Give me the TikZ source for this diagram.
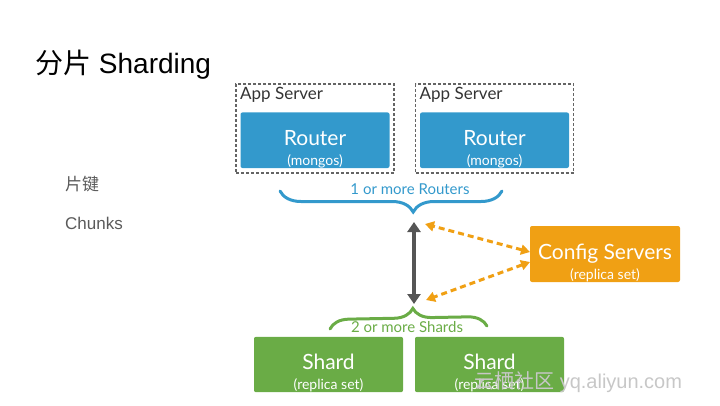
\documentclass[tikz,border=0pt]{standalone}
\usepackage{fontspec}
\setmainfont{Liberation Sans}
\newfontfamily\gill{Lato}
\newfontfamily\cjk{Noto Sans CJK SC}
\usetikzlibrary{arrows.meta, positioning, calc, decorations.pathreplacing}
\definecolor{routerblue}{RGB}{51, 153, 204}
\definecolor{cfgorange}{RGB}{240, 160, 20}
\definecolor{shardgreen}{RGB}{106, 172, 70}
\definecolor{appgray}{RGB}{100, 100, 100}
\definecolor{arrowgray}{RGB}{85, 85, 85}
\definecolor{notegray}{RGB}{90, 90, 90}
% two-line box text, pushed a bit below the middle
\newcommand{\twolines}[2]{\rule{0pt}{33pt}#1\\[-1pt]{\gill\fontsize{14}{14}\selectfont #2}}

\begin{document}
\begin{tikzpicture}[x=1pt, y=-1pt,
  appbox/.style={draw=appgray, line width=1.2pt, dash pattern=on 3pt off 2pt, minimum width=158pt, minimum height=89pt, outer sep=0pt},
  applabel/.style={inner sep=0pt, font=\gill\fontsize{17}{18}\selectfont, text=black!80},
  comp/.style={rounded corners=2pt, text=white, align=center, inner sep=0pt, outer sep=0pt, minimum width=149pt, minimum height=55pt, font=\gill\fontsize{21}{21}\selectfont},
  router/.style={comp, fill=routerblue},
  shard/.style={comp, fill=shardgreen},
  config/.style={comp, fill=cfgorange, minimum width=150pt, minimum height=56pt},
  note/.style={anchor=base west, inner sep=0pt, text=notegray, font=\fontsize{17}{20}\selectfont},
  mainarrow/.style={draw=arrowgray, line width=4pt, {Triangle[width=13pt,length=10pt]}-{Triangle[width=13pt,length=10pt]}},
  cfgarrow/.style={draw=cfgorange, line width=3pt, dash pattern=on 6pt off 4pt, {Triangle[width=10pt,length=9pt]}-{Triangle[width=10pt,length=9pt]}},
  bracelabel/.style={font=\gill\fontsize{15}{15}\selectfont, inner sep=0pt}
]
  \useasboundingbox (0,0) rectangle (720,405);

  % title and notes
  \node[anchor=base west, inner sep=0pt, font=\fontsize{28}{30}\selectfont] (title) at (35,73) {{\cjk 分片} Sharding};
  \node[note] (shardkey) at (65,190) {\cjk 片键};
  \node[note] (chunks) at (65,229) {Chunks};

  % app servers with routers
  \node[appbox] (appA) at (315,128.5) {};
  \node[appbox] (appB) at (494.5,128.5) {};
  \node[applabel, below right=3pt and 4pt of appA.north west] {App Server};
  \node[applabel, below right=3pt and 4pt of appB.north west] {App Server};
  \node[router, above=5pt of appA.south] (routerA) {\twolines{Router}{(mongos)}};
  \node[router, above=5pt of appB.south] (routerB) {\twolines{Router}{(mongos)}};

  % config servers
  \node[config] (cfg) at (605,254) {\twolines{Config Servers}{(replica set)}};

  % shards
  \node[shard] (shardA) at (328.5,364.5) {\twolines{Shard}{(replica set)}};
  \node[shard, right=12pt of shardA] (shardB) {\twolines{Shard}{(replica set)}};

  % braces
  \draw[routerblue, line width=3pt, line cap=round, decorate,
    decoration={brace, mirror, amplitude=21pt, aspect=0.6}] (280,191) -- (502,191);
  \node[bracelabel, text=routerblue] (routerslbl) at (410,189) {1 or more Routers};
  \draw[shardgreen, line width=3pt, line cap=round, decorate,
    decoration={brace, amplitude=19pt, aspect=0.53}] (330,329) -- (487,326);
  \node[bracelabel, text=shardgreen] (shardslbl) at (407,327) {2 or more Shards};

  \coordinate (rtip) at (414,222);
  \coordinate (stip) at (414,304);
  \coordinate (rside) at (425,224);
  \coordinate (sside) at (426,300);

  % connectors
  \draw[mainarrow] (rtip) -- (stip);
  \draw[cfgarrow] ([yshift=2pt]cfg.west) -- (rside);
  \draw[cfgarrow] ([yshift=-8pt]cfg.west) -- (sside);

  % watermark
  \node[anchor=base west, inner sep=0pt, text=black!22, font=\fontsize{20}{22}\selectfont] (mark) at (474,388) {{\cjk 云栖社区} yq.aliyun.com};
\end{tikzpicture}
\end{document}
